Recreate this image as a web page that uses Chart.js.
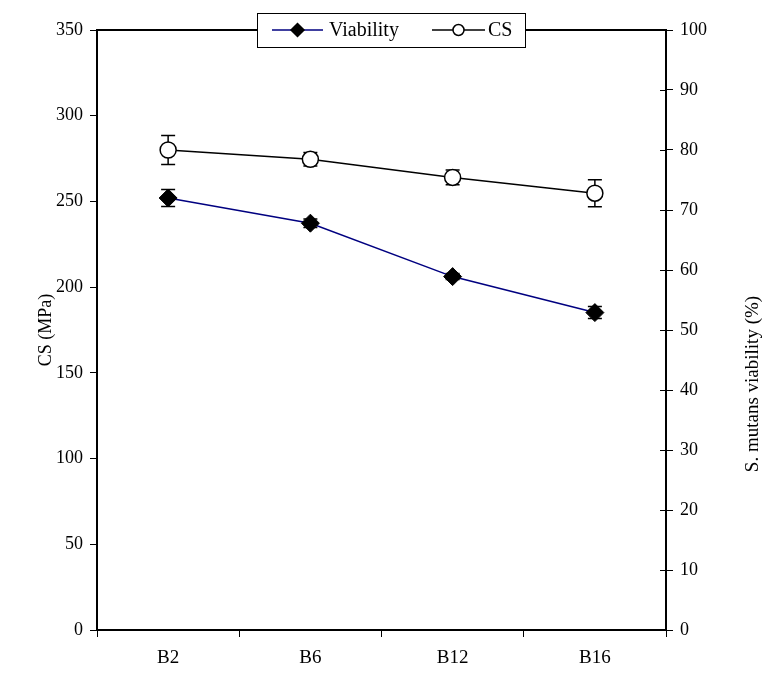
<!DOCTYPE html>
<html>
<head>
<meta charset="utf-8">
<script src="https://cdn.jsdelivr.net/npm/chart.js@4/dist/chart.umd.min.js"></script>
<style>
  html, body { margin: 0; padding: 0; background: #fff; }
  #wrap { width: 763px; height: 673px; }
</style>
</head>
<body>
<div id="wrap"><canvas id="c" width="763" height="673"></canvas></div>
<script>
// Formulations on the x axis
const categories = ['B2', 'B6', 'B12', 'B16'];

// Compressive strength (MPa), left axis
const csValues = [280, 274.6, 264, 254.8];
const csErr = [8.5, 4, 4.3, 7.9];

// S. mutans viability (%), right axis
const viabilityValues = [72, 67.8, 58.9, 52.9];
const viabilityErr = [1.4, 0.7, 0.5, 1.0];

// Axis ranges and tick steps
const csAxis = { min: 0, max: 350, step: 50 };
const viaAxis = { min: 0, max: 100, step: 10 };

const FONT = 'Liberation Serif';
const TICK_FS = 18;
const LABEL_FS = 19;
const LEFT_TITLE_FS = 18;
const RIGHT_TITLE_FS = 19;
const LEGEND_FS = 20;

// Vertical error bars with caps, drawn beneath lines and markers
const errorBars = {
  id: 'errorBars',
  beforeDatasetsDraw(chart) {
    const ctx = chart.ctx;
    chart.data.datasets.forEach((ds, i) => {
      const meta = chart.getDatasetMeta(i);
      const yScale = chart.scales[ds.yAxisID];
      ctx.save();
      ctx.strokeStyle = '#000';
      ctx.lineWidth = 1.5;
      meta.data.forEach((pt, j) => {
        const v = ds.data[j], e = ds.errors[j];
        const yTop = yScale.getPixelForValue(v + e);
        const yBot = yScale.getPixelForValue(v - e);
        const x = pt.x, cap = 7;
        ctx.beginPath();
        ctx.moveTo(x, yTop); ctx.lineTo(x, yBot);
        ctx.moveTo(x - cap, yTop); ctx.lineTo(x + cap, yTop);
        ctx.moveTo(x - cap, yBot); ctx.lineTo(x + cap, yBot);
        ctx.stroke();
      });
      ctx.restore();
    });
  }
};

// Frame top edge, inner ticks on right axis, axis titles, boxed legend
const decorations = {
  id: 'decorations',
  afterDraw(chart) {
    const ctx = chart.ctx;
    const a = chart.chartArea;
    const y1 = chart.scales.y1;
    ctx.save();
    ctx.strokeStyle = '#000';
    ctx.lineWidth = 2;
    ctx.beginPath();
    ctx.moveTo(a.left, a.top); ctx.lineTo(a.right, a.top);
    ctx.stroke();
    ctx.lineWidth = 1;
    ctx.beginPath();
    y1.ticks.forEach(t => {
      const yy = Math.round(y1.getPixelForValue(t.value)) + 0.5;
      ctx.moveTo(a.right - 6, yy); ctx.lineTo(a.right, yy);
    });
    ctx.stroke();

    // axis titles
    ctx.fillStyle = '#000';
    ctx.textAlign = 'center';
    ctx.textBaseline = 'middle';
    ctx.save();
    ctx.font = LEFT_TITLE_FS + 'px "' + FONT + '"';
    ctx.translate(46, (a.top + a.bottom) / 2);
    ctx.rotate(-Math.PI / 2);
    ctx.fillText('CS (MPa)', 0, 0);
    ctx.restore();
    ctx.save();
    ctx.font = RIGHT_TITLE_FS + 'px "' + FONT + '"';
    ctx.translate(753, 384);
    ctx.rotate(-Math.PI / 2);
    ctx.fillText('S. mutans viability (%)', 0, 0);
    ctx.restore();

    // legend box
    const bx = 257, by = 13, bw = 268, bh = 34;
    ctx.fillStyle = '#fff';
    ctx.fillRect(bx, by, bw, bh);
    ctx.strokeStyle = '#000';
    ctx.lineWidth = 1;
    ctx.strokeRect(bx + 0.5, by + 0.5, bw, bh);
    const cy = by + bh / 2;
    const items = [
      { ds: chart.data.datasets[0], x0: 272, x1: 323, tx: 329 },
      { ds: chart.data.datasets[1], x0: 432, x1: 485, tx: 488 }
    ];
    items.forEach(it => {
      const ds = it.ds;
      ctx.strokeStyle = ds.borderColor;
      ctx.lineWidth = 1.5;
      ctx.beginPath();
      ctx.moveTo(it.x0, cy); ctx.lineTo(it.x1, cy);
      ctx.stroke();
      const mx = (it.x0 + it.x1) / 2;
      ctx.fillStyle = ds.pointBackgroundColor;
      ctx.strokeStyle = ds.pointBorderColor;
      ctx.lineWidth = 1.5;
      ctx.beginPath();
      if (ds.pointStyle === 'rectRot') {
        const r = 6.5;
        ctx.moveTo(mx - r, cy); ctx.lineTo(mx, cy - r);
        ctx.lineTo(mx + r, cy); ctx.lineTo(mx, cy + r); ctx.closePath();
      } else {
        ctx.arc(mx, cy, 5.5, 0, Math.PI * 2);
      }
      ctx.fill(); ctx.stroke();
      ctx.fillStyle = '#000';
      ctx.font = LEGEND_FS + 'px "' + FONT + '"';
      ctx.textAlign = 'left';
      ctx.textBaseline = 'middle';
      ctx.fillText(ds.label, it.tx, cy + 1);
    });
    ctx.restore();
  }
};

new Chart(document.getElementById('c'), {
  type: 'line',
  data: {
    labels: categories,
    datasets: [
      {
        label: 'Viability',
        data: viabilityValues,
        errors: viabilityErr,
        yAxisID: 'y1',
        borderColor: '#000080',
        borderWidth: 1.5,
        pointStyle: 'rectRot',
        pointRadius: 9,
        pointBackgroundColor: '#000',
        pointBorderColor: '#000',
        pointBorderWidth: 1,
        tension: 0
      },
      {
        label: 'CS',
        data: csValues,
        errors: csErr,
        yAxisID: 'y',
        borderColor: '#000',
        borderWidth: 1.5,
        pointStyle: 'circle',
        pointRadius: 8,
        pointBackgroundColor: '#fff',
        pointBorderColor: '#000',
        pointBorderWidth: 1.5,
        tension: 0
      }
    ]
  },
  options: {
    responsive: false,
    animation: false,
    devicePixelRatio: 1,
    layout: { padding: { top: 30, left: 0, right: 0, bottom: 0 } },
    plugins: { legend: { display: false }, tooltip: { enabled: false } },
    scales: {
      x: {
        type: 'category',
        offset: true,
        grid: { offset: true, drawOnChartArea: false, drawTicks: true, tickLength: 7, color: '#000', lineWidth: 1 },
        border: { color: '#000', width: 2 },
        ticks: { color: '#000', font: { family: FONT, size: LABEL_FS }, padding: 10, maxRotation: 0 },
        afterFit(s) { s.height = 43; }
      },
      y: {
        position: 'left',
        min: csAxis.min, max: csAxis.max,
        grid: { drawOnChartArea: false, drawTicks: true, tickLength: 7, color: '#000', lineWidth: 1 },
        border: { color: '#000', width: 2 },
        ticks: { stepSize: csAxis.step, color: '#000', font: { family: FONT, size: TICK_FS }, padding: 7 },
        afterFit(s) { s.width = 97; }
      },
      y1: {
        position: 'right',
        min: viaAxis.min, max: viaAxis.max,
        grid: { drawOnChartArea: false, drawTicks: true, tickLength: 7, color: '#000', lineWidth: 1 },
        border: { color: '#000', width: 2 },
        ticks: { stepSize: viaAxis.step, color: '#000', font: { family: FONT, size: TICK_FS }, padding: 7 },
        afterFit(s) { s.width = 97; }
      }
    }
  },
  plugins: [errorBars, decorations]
});
</script>
</body>
</html>
